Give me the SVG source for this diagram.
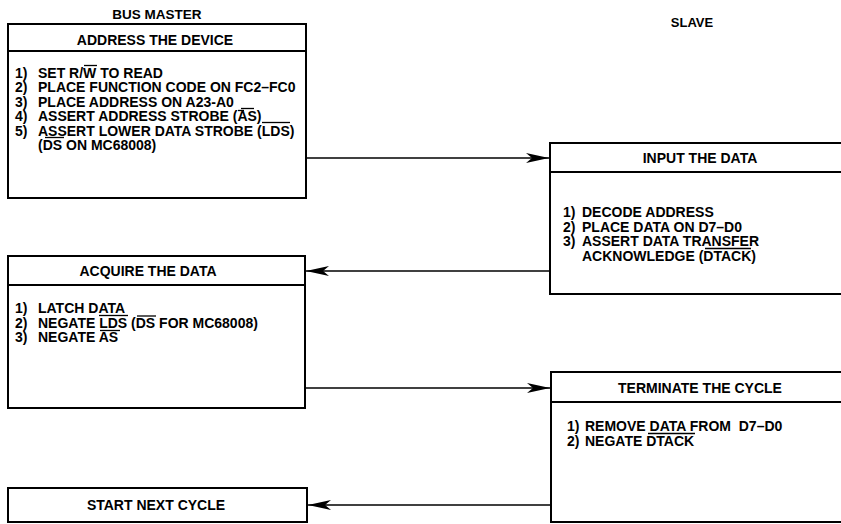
<svg xmlns="http://www.w3.org/2000/svg" width="841" height="524" viewBox="0 0 841 524">
<style>
.box{fill:#fff;stroke:#000;stroke-width:2}
.div{stroke:#000;stroke-width:2}
.t{font-family:"Liberation Sans",Arial,Helvetica,sans-serif;font-weight:bold;font-size:14px;fill:#000}
.c{text-anchor:middle}
.bar{stroke:#000;stroke-width:1.3;fill:none}
.conn{stroke:#000;stroke-width:1.5;fill:none}
</style>
<defs>
<marker id="ah" markerUnits="userSpaceOnUse" markerWidth="24" markerHeight="12" viewBox="0 0 24 12" refX="23" refY="6" orient="auto">
<path d="M0,1 L23,6 L0,11 L6,6 Z" fill="#000"/>
</marker>
</defs>
<rect width="841" height="524" fill="#fff"/>

<text class="t c" x="157" y="19" style="font-size:13.5px">BUS MASTER</text>
<text class="t c" x="692" y="27" style="font-size:13px">SLAVE</text>

<g id="address-the-device">
<rect class="box" x="8" y="24" width="298" height="174"/>
<line class="div" x1="8" y1="51" x2="306" y2="51"/>
<text class="t c" x="155" y="45">ADDRESS THE DEVICE</text>
<text class="t" y="77.5"><tspan x="15">1)</tspan><tspan x="38">SET R/W TO READ</tspan></text>
<text class="t" y="92"><tspan x="15">2)</tspan><tspan x="38">PLACE FUNCTION CODE ON FC2–FC0</tspan></text>
<text class="t" y="106.5"><tspan x="15">3)</tspan><tspan x="38">PLACE ADDRESS ON A23-A0</tspan></text>
<text class="t" y="121"><tspan x="15">4)</tspan><tspan x="38">ASSERT ADDRESS STROBE (AS)</tspan></text>
<text class="t" y="135.5"><tspan x="15">5)</tspan><tspan x="38">ASSERT LOWER DATA STROBE (LDS)</tspan></text>
<text class="t" x="38" y="150">(DS ON MC68008)</text>
<line class="bar" x1="84" y1="65.5" x2="97" y2="65.5"/>
<line class="bar" x1="241" y1="108.5" x2="254" y2="108.5"/>
<line class="bar" x1="238" y1="110.5" x2="244" y2="110.5"/>
<line class="bar" x1="262" y1="122.5" x2="290" y2="122.5"/>
<line class="bar" x1="45" y1="137.5" x2="64" y2="137.5"/>
</g>

<g id="input-the-data">
<rect class="box" x="550" y="143" width="300" height="151"/>
<line class="div" x1="550" y1="172" x2="850" y2="172"/>
<text class="t c" x="700" y="163">INPUT THE DATA</text>
<text class="t" y="217"><tspan x="563">1)</tspan><tspan x="582">DECODE ADDRESS</tspan></text>
<text class="t" y="231.5"><tspan x="563">2)</tspan><tspan x="582">PLACE DATA ON D7–D0</tspan></text>
<text class="t" y="246"><tspan x="563">3)</tspan><tspan x="582">ASSERT DATA TRANSFER</tspan></text>
<text class="t" x="582" y="260.5">ACKNOWLEDGE (DTACK)</text>
<line class="bar" x1="705" y1="248.5" x2="751" y2="248.5"/>
</g>

<g id="acquire-the-data">
<rect class="box" x="8" y="256" width="297" height="152"/>
<line class="div" x1="8" y1="285" x2="305" y2="285"/>
<text class="t c" x="148" y="275.5">ACQUIRE THE DATA</text>
<text class="t" y="313"><tspan x="15">1)</tspan><tspan x="38">LATCH DATA</tspan></text>
<text class="t" y="327.5"><tspan x="15">2)</tspan><tspan x="38">NEGATE LDS (DS FOR MC68008)</tspan></text>
<text class="t" y="342"><tspan x="15">3)</tspan><tspan x="38">NEGATE AS</tspan></text>
<line class="bar" x1="99" y1="315.5" x2="128" y2="315.5"/>
<line class="bar" x1="137" y1="316" x2="156" y2="316"/>
<line class="bar" x1="100" y1="330.5" x2="120" y2="330.5"/>
</g>

<g id="terminate-the-cycle">
<rect class="box" x="551" y="372" width="300" height="150"/>
<line class="div" x1="551" y1="402" x2="851" y2="402"/>
<text class="t c" x="700" y="392.5">TERMINATE THE CYCLE</text>
<text class="t" y="431"><tspan x="567">1)</tspan><tspan x="585">REMOVE DATA FROM&#160; D7–D0</tspan></text>
<text class="t" y="445.5"><tspan x="567">2)</tspan><tspan x="585">NEGATE DTACK</tspan></text>
<line class="bar" x1="648" y1="433.5" x2="695" y2="433.5"/>
</g>

<g id="start-next-cycle">
<rect class="box" x="8" y="488" width="299" height="34"/>
<text class="t c" x="156" y="510">START NEXT CYCLE</text>
</g>

<g id="connectors">
<line class="conn" x1="307" y1="158" x2="549" y2="158" marker-end="url(#ah)"/>
<line class="conn" x1="549" y1="271" x2="306" y2="271" marker-end="url(#ah)"/>
<line class="conn" x1="306" y1="388" x2="550" y2="388" marker-end="url(#ah)"/>
<line class="conn" x1="550" y1="505" x2="308" y2="505" marker-end="url(#ah)"/>
</g>
</svg>
